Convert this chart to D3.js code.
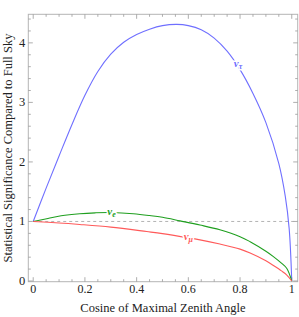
<!DOCTYPE html>
<html>
<head>
<meta charset="utf-8">
<script src="https://cdn.jsdelivr.net/npm/d3@7"></script>
<style>
  body { margin: 0; background: white; }
  text { font-family: "Liberation Serif", "DejaVu Serif", serif; }
</style>
</head>
<body>
<svg id="chart" width="299" height="317"></svg>
<script>
// datos
const tauX = [0, 0.05, 0.1, 0.15, 0.2, 0.25, 0.3, 0.35, 0.4, 0.45, 0.5, 0.555, 0.6, 0.65, 0.7, 0.75, 0.8, 0.85, 0.9, 0.95, 0.975, 0.99, 1]
const tauY = [1, 1.56, 2.1, 2.63, 3.12, 3.52, 3.81, 4.01, 4.14, 4.23, 4.29, 4.31, 4.29, 4.22, 4.08, 3.86, 3.55, 3.15, 2.66, 1.97, 1.42, 0.88, 0]

const eX = [0, 0.057, 0.108, 0.18, 0.24, 0.303, 0.387, 0.45, 0.5, 0.568, 0.645, 0.722, 0.8, 0.839, 0.9, 0.929, 0.96, 0.981, 1]
const eY = [1, 1.05, 1.095, 1.13, 1.145, 1.15, 1.13, 1.10, 1.07, 1.01, 0.94, 0.86, 0.745, 0.66, 0.50, 0.41, 0.30, 0.21, 0]

const muX = [0, 0.1, 0.18, 0.3, 0.439, 0.5, 0.6, 0.645, 0.722, 0.8, 0.839, 0.9, 0.929, 0.96, 0.981, 1]
const muY = [1, 0.975, 0.95, 0.905, 0.83, 0.795, 0.725, 0.69, 0.62, 0.535, 0.47, 0.34, 0.26, 0.17, 0.10, 0]

const xTicks = [0, 0.2, 0.4, 0.6, 0.8, 1]
const xTickLabels = ['0', '0.2', '0.4', '0.6', '0.8', '1']
const yTicks = [0, 1, 2, 3, 4]
const refLine = 1

const svg = d3.select('#chart')

const margin = { top: 14.3, right: 1.3, bottom: 35.3, left: 28.3 }
const width = +svg.attr('width')
const height = +svg.attr('height')
const innerRight = width - margin.right
const innerBottom = height - margin.bottom

const xScale = d3.scaleLinear()
    .domain([-0.019, 1.023])
    .range([margin.left, innerRight])

const yScale = d3.scaleLinear()
    .domain([-0.012, 4.48])
    .range([innerBottom, margin.top])

// marco
svg.append('rect')
    .attr('x', margin.left)
    .attr('y', margin.top)
    .attr('width', innerRight - margin.left)
    .attr('height', innerBottom - margin.top)
    .attr('fill', 'white')
    .attr('stroke', '#b4b4b4')
    .attr('stroke-width', 1)

// ticks en los cuatro lados (hacia adentro)
const xMinor = d3.range(0, 1.0001, 0.05)
const yMinor = d3.range(0, 4.4001, 0.2)
const isMajor = (v, step) => Math.abs(v / step - Math.round(v / step)) < 1e-6

const tickG = svg.append('g').attr('stroke', '#999').attr('stroke-width', 0.8)

xMinor.forEach(v => {
    const len = isMajor(v, 0.2) ? 4.5 : 2.5
    const px = xScale(v)
    tickG.append('line').attr('x1', px).attr('x2', px)
        .attr('y1', innerBottom).attr('y2', innerBottom - len)
    tickG.append('line').attr('x1', px).attr('x2', px)
        .attr('y1', margin.top).attr('y2', margin.top + len)
})
yMinor.forEach(v => {
    const len = isMajor(v, 1) ? 4.5 : 2.5
    const py = yScale(v)
    tickG.append('line').attr('y1', py).attr('y2', py)
        .attr('x1', margin.left).attr('x2', margin.left + len)
    tickG.append('line').attr('y1', py).attr('y2', py)
        .attr('x1', innerRight).attr('x2', innerRight - len)
})

// etiquetas de los ticks
svg.append('g').selectAll('text').data(xTicks)
    .enter().append('text')
        .attr('x', d => xScale(d))
        .attr('y', innerBottom + 11.5)
        .attr('text-anchor', 'middle')
        .attr('font-size', 12)
        .attr('fill', '#222')
        .text((d, i) => xTickLabels[i])

svg.append('g').selectAll('text').data(yTicks)
    .enter().append('text')
        .attr('x', margin.left - 3)
        .attr('y', d => yScale(d) + 4)
        .attr('text-anchor', 'end')
        .attr('font-size', 12.5)
        .attr('fill', '#222')
        .text(d => d)

// linea de referencia punteada
svg.append('line')
    .attr('x1', xScale(0))
    .attr('x2', innerRight)
    .attr('y1', yScale(refLine))
    .attr('y2', yScale(refLine))
    .attr('stroke', '#aaa')
    .attr('stroke-width', 0.9)
    .attr('stroke-dasharray', '3,3')

// curvas
const line = d3.line()
    .x(d => xScale(d[0]))
    .y(d => yScale(d[1]))
    .curve(d3.curveCatmullRom.alpha(0.5))

const series = [
    { xs: tauX, ys: tauY, color: '#6f6fff' },
    { xs: eX, ys: eY, color: '#1f9f1f' },
    { xs: muX, ys: muY, color: '#ff5a5a' }
]

series.forEach(s => {
    svg.append('path')
        .datum(s.xs.map((x, i) => [x, s.ys[i]]))
        .attr('d', line)
        .attr('fill', 'none')
        .attr('stroke', s.color)
        .attr('stroke-width', 1.1)
})

// etiquetas de las curvas (con fondo blanco que corta la linea)
const curveLabels = [
    { x: 0.792, y: 3.62, sub: 'τ', color: '#6f6fff' },
    { x: 0.303, y: 1.15, sub: 'e', color: '#1f9f1f' },
    { x: 0.6, y: 0.725, sub: 'μ', color: '#ff5a5a' }
]

curveLabels.forEach(l => {
    const t = svg.append('text')
        .attr('x', xScale(l.x))
        .attr('y', yScale(l.y) + 2)
        .attr('text-anchor', 'middle')
        .attr('font-size', 11)
        .attr('font-style', 'italic')
        .attr('font-weight', 'bold')
        .attr('fill', l.color)
        .attr('stroke', 'white')
        .attr('stroke-width', 3)
        .attr('paint-order', 'stroke')
    t.append('tspan').text('ν')
    t.append('tspan').attr('font-size', 8).attr('dy', 2).text(l.sub)
})

// titulos de los ejes
svg.append('text')
    .attr('x', (margin.left + innerRight) / 2)
    .attr('y', height - 5)
    .attr('text-anchor', 'middle')
    .attr('font-size', 12.5)
    .attr('fill', '#222')
    .text('Cosine of Maximal Zenith Angle')

svg.append('text')
    .attr('transform', `translate(12, ${(margin.top + innerBottom) / 2}) rotate(-90)`)
    .attr('text-anchor', 'middle')
    .attr('font-size', 12.5)
    .attr('fill', '#222')
    .text('Statistical Significance Compared to Full Sky')
</script>
</body>
</html>
